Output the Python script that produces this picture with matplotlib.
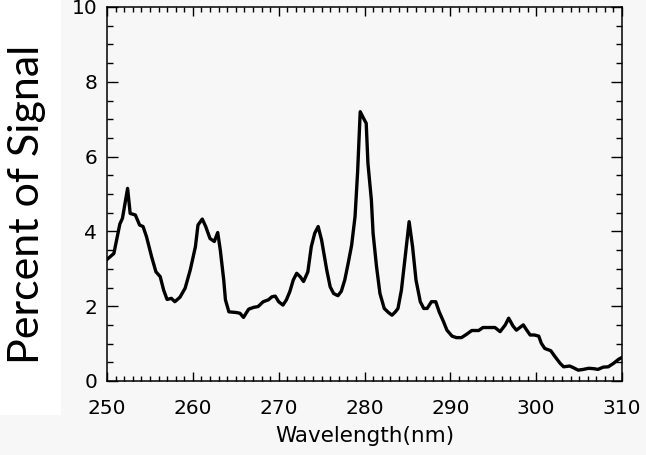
import matplotlib.pyplot as plt
from matplotlib.patches import Rectangle
from matplotlib.ticker import MultipleLocator

# emission spectrum, percent of total signal per wavelength
wavelength = [250.0, 250.8, 251.5, 251.8, 252.4, 252.7, 253.3, 253.8, 254.2, 254.6,
              255.2, 255.7, 256.2, 256.6, 257.0, 257.5, 257.9, 258.5, 259.1, 259.7,
              260.3, 260.6, 261.1, 261.5, 262.0, 262.5, 262.9, 263.2, 263.6, 263.8,
              264.2, 265.1, 265.5, 265.9, 266.5, 267.1, 267.6, 268.2, 268.8, 269.2,
              269.6, 270.0, 270.5, 270.9, 271.3, 271.7, 272.1, 272.5, 272.9, 273.4,
              273.8, 274.2, 274.6, 275.0, 275.6, 276.0, 276.4, 276.9, 277.3, 277.7,
              278.1, 278.5, 278.9, 279.2, 279.5, 279.9, 280.2, 280.4, 280.8, 281.0,
              281.4, 281.8, 282.3, 282.8, 283.2, 283.6, 283.9, 284.3, 284.7, 285.2,
              285.6, 286.0, 286.5, 286.9, 287.3, 287.8, 288.3, 288.7, 289.2, 289.6,
              290.2, 290.7, 291.3, 291.9, 292.5, 293.3, 293.8, 294.4, 295.2, 295.8,
              296.4, 296.8, 297.3, 297.7, 298.5, 298.9, 299.3, 299.8, 300.3, 300.6,
              301.0, 301.7, 302.2, 302.8, 303.2, 303.9, 304.3, 304.9, 305.5, 306.1,
              306.7, 307.2, 307.8, 308.4, 309.0, 309.6, 310.0]
signal = [3.25, 3.41, 4.2, 4.35, 5.15, 4.48, 4.44, 4.17, 4.13, 3.86,
          3.32, 2.92, 2.79, 2.43, 2.18, 2.21, 2.12, 2.24, 2.48, 2.97,
          3.59, 4.17, 4.33, 4.13, 3.81, 3.73, 3.97, 3.5, 2.70, 2.17,
          1.85, 1.83, 1.81, 1.70, 1.92, 1.97, 1.99, 2.12, 2.17, 2.25,
          2.27, 2.12, 2.03, 2.17, 2.39, 2.70, 2.88, 2.79, 2.66, 2.92,
          3.59, 3.95, 4.13, 3.77, 2.97, 2.52, 2.34, 2.28, 2.40, 2.70,
          3.15, 3.63, 4.4, 5.6, 7.2, 7.02, 6.89, 5.82, 4.84, 3.95,
          3.06, 2.34, 1.94, 1.83, 1.76, 1.85, 1.94, 2.43, 3.24, 4.26,
          3.59, 2.70, 2.12, 1.94, 1.94, 2.12, 2.12, 1.85, 1.59, 1.36,
          1.20, 1.16, 1.16, 1.25, 1.35, 1.35, 1.43, 1.43, 1.43, 1.32,
          1.50, 1.68, 1.47, 1.36, 1.50, 1.36, 1.23, 1.23, 1.20, 1.01,
          0.87, 0.81, 0.65, 0.47, 0.38, 0.40, 0.36, 0.29, 0.31, 0.34,
          0.33, 0.31, 0.37, 0.38, 0.47, 0.58, 0.63]

bg = '#f7f7f7'
fig = plt.figure(figsize=(6.46, 4.55), dpi=100, facecolor=bg)
ax = fig.add_axes([107/646, 1 - 381/455, 515/646, 374/455], facecolor=bg)

# white strip behind the big y label
fig.patches.append(Rectangle((0, 1 - 415/455), 61/646, 415/455,
                             transform=fig.transFigure, facecolor='white',
                             edgecolor='none', zorder=0))

ax.plot(wavelength, signal, color='black', lw=2.4)

ax.set_xlim(250, 310)
ax.set_ylim(0, 10)
ax.xaxis.set_major_locator(MultipleLocator(10))
ax.xaxis.set_minor_locator(MultipleLocator(1))
ax.yaxis.set_major_locator(MultipleLocator(2))
ax.yaxis.set_minor_locator(MultipleLocator(0.5))

for s in ax.spines.values():
    s.set_linewidth(1.1)
ax.tick_params(which='both', direction='in', top=True, right=True, color='black')
ax.tick_params(axis='x', which='major', length=6.5, width=1, pad=13, labelsize=14.5)
ax.tick_params(axis='x', which='minor', length=3.5, width=1)
ax.tick_params(axis='y', which='major', length=8, width=1, pad=7, labelsize=14.5)
ax.tick_params(axis='y', which='minor', length=4.5, width=1)

ax.set_xlabel('Wavelength(nm)', fontsize=15.5, labelpad=6)

fig.text(8/646, 1 - 204/455, 'Percent of Signal', rotation=90, ha='left',
         va='center', fontsize=31, family='Lato', zorder=3)

fig.savefig('out.png', dpi=100, facecolor=bg)
